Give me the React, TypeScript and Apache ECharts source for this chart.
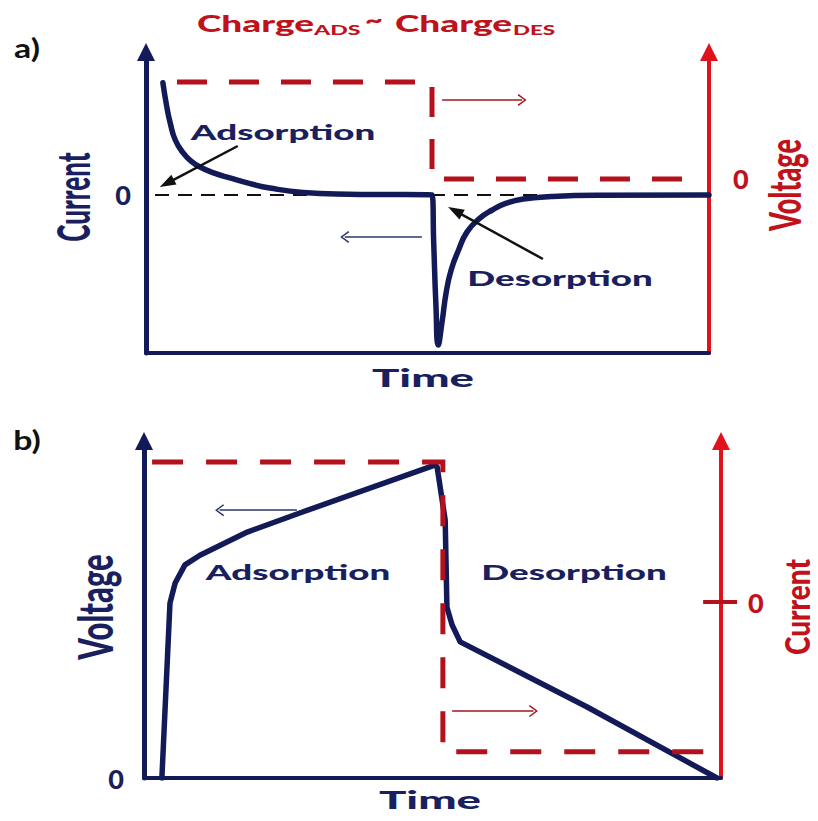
import React, { useEffect, useRef } from "react";
import * as echarts from "echarts";

// ---------- Panel a) current transient (left axis) & voltage step (right axis) ----------
// [time, current]
const currentA: [number, number][] = [
  [3.0, 0.71], [3.7, 0.557], [4.3, 0.456], [5.2, 0.348], [6.6, 0.266], [8.0, 0.215],
  [9.6, 0.177], [12.0, 0.14], [14.9, 0.108], [18.5, 0.072], [22.0, 0.044], [27.9, 0.016],
  [36.0, 0.005], [50.8, 0.0], [51.1, -0.3], [51.5, -0.7], [51.9, -0.95], [52.6, -0.8],
  [53.3, -0.62], [54.2, -0.475], [55.5, -0.35], [57.0, -0.235], [59.2, -0.15], [61.5, -0.095],
  [64.0, -0.052], [67.0, -0.025], [72.0, -0.01], [80.0, -0.002], [100, 0],
];
// [time, voltage]
const voltageA: [number, number][] = [[5.5, 1], [50.8, 1], [50.8, 0], [96.6, 0]];
const zeroLineA: [number, number][] = [[1.6, 0], [100, 0]];

// ---------- Panel b) voltage (left axis) & current step (right axis) ----------
const voltageB: [number, number][] = [
  [3.1, 0], [4.5, 0.559], [5.4, 0.623], [7.1, 0.681], [9.7, 0.712], [17.9, 0.786],
  [27.0, 0.847], [50.4, 1.0], [50.8, 0.994], [52.2, 0.824], [52.5, 0.546], [53.4, 0.489],
  [54.8, 0.435], [76.8, 0.227], [99.3, 0],
];
const currentB: [number, number][] = [[1.4, 1.0], [51.8, 1.0], [51.8, -1.07], [99.5, -1.07]];

// annotation arrows, [from, to] in data units
const adsorptionArrowA: [number, number][] = [[16.3, 0.31], [3.7, 0.074]];
const desorptionArrowA: [number, number][] = [[70.5, -0.405], [54.9, -0.1]];
const currentDirArrowA: [number, number][] = [[49.0, -0.266], [35.3, -0.266]];
const voltageDirArrowA: [number, number][] = [[52.6, 0.814], [66.8, 0.814]];
const voltageDirArrowB: [number, number][] = [[26.5, 0.856], [13.1, 0.856]];
const currentDirArrowB: [number, number][] = [[53.4, -0.779], [67.5, -0.779]];
const zeroTickB: [number, number][] = [[96.9, 0], [100, 0]];

const zeroTick = [0];

const NAVY = "#131a58";
const NAVY_TEXT = "#1a1f5e";
const RED = "#e0121b";
const RED_DASH = "#b3111b";
const RED_TEXT = "#c0121b";
const FONT = "Lato";
const CHEVRON = "path://M5,0 L10,9 L9,10 L5,2.6 L1,10 L0,9 Z";

function txt(
  text: string, x: number, y: number, size: number, color: string,
  o: { sx?: number; sy?: number; rot?: number; align?: string; weight?: number } = {}
) {
  const align = o.align || "center";
  return {
    type: "text", x, y, rotation: o.rot || 0, scaleX: o.sx || 1, scaleY: o.sy || 1, silent: true,
    style: {
      text, fill: color, fontSize: size, fontWeight: o.weight || 900, fontFamily: FONT,
      textAlign: align, textVerticalAlign: "middle", align, verticalAlign: "middle",
    },
  };
}

function arrow(pts: [number, number][], color: string, width: number, head: any, size: any) {
  return [
    { coord: pts[0], symbol: "none", lineStyle: { color, width, type: "solid" } },
    { coord: pts[1], symbol: head, symbolSize: size },
  ];
}

function mk(data: any[]) {
  return {
    silent: true, animation: false, symbol: ["none", "none"], label: { show: false },
    emphasis: { disabled: true }, data,
  };
}

function yAxisBase(grid: number, pos: string, min: number, max: number, color: string,
  labelColor: string, margin: number, width: number) {
  return {
    type: "value", gridIndex: grid, position: pos, min, max,
    axisLine: {
      show: true, onZero: false, symbol: ["none", "triangle"], symbolSize: [18, 18],
      lineStyle: { color, width },
    },
    axisTick: { show: false },
    splitLine: { show: false },
    axisLabel: {
      customValues: zeroTick, margin, color: labelColor, fontFamily: FONT,
      fontWeight: 900, fontSize: 27,
    },
  };
}

function xAxisBase(grid: number) {
  return {
    type: "value", gridIndex: grid, min: 0, max: 100,
    axisLine: { show: true, onZero: false, lineStyle: { color: NAVY, width: 4 } },
    axisTick: { show: false }, axisLabel: { show: false }, splitLine: { show: false },
  };
}

export default function App() {
  const ref = useRef<HTMLDivElement>(null);
  useEffect(() => {
    const chart = echarts.init(ref.current!, null, { renderer: "svg" });
    const rightB: any = yAxisBase(1, "right", -1.257, 1.15, RED, RED_TEXT, 27, 4);
    rightB.axisTick = { show: true, customValues: zeroTick, length: 16, inside: false, lineStyle: { color: RED_DASH, width: 4 } };
    const option: any = {
      animation: false,
      backgroundColor: "#ffffff",
      grid: [
        { left: 146, top: 52, width: 563, height: 301 },
        { left: 144, top: 441, width: 577, height: 337 },
      ],
      xAxis: [xAxisBase(0), xAxisBase(1)],
      yAxis: [
        yAxisBase(0, "left", -1, 0.905, NAVY, NAVY_TEXT, 15, 5),
        yAxisBase(0, "right", -1.794, 1.309, RED, RED_TEXT, 24, 4),
        yAxisBase(1, "left", 0, 1.077, NAVY, NAVY_TEXT, 20, 5),
        rightB,
      ],
      series: [
        {
          name: "zero", type: "line", xAxisIndex: 0, yAxisIndex: 0, data: zeroLineA,
          showSymbol: false, symbol: "none", silent: true, z: 1,
          lineStyle: { color: "#111111", width: 2, type: [14, 9] },
          markLine: mk([
            arrow(adsorptionArrowA, "#111111", 2.5, "triangle", [11, 16]),
            arrow(desorptionArrowA, "#111111", 2.5, "triangle", [11, 16]),
            arrow(currentDirArrowA, "#2c3468", 1.5, CHEVRON, [12, 9]),
          ]),
        },
        {
          name: "Current a", type: "line", xAxisIndex: 0, yAxisIndex: 0, data: currentA,
          showSymbol: false, symbol: "none", silent: true, z: 3, smooth: 0.5,
          lineStyle: { color: NAVY, width: 5.5, cap: "round", join: "round" },
        },
        {
          name: "Voltage a", type: "line", xAxisIndex: 0, yAxisIndex: 1, data: voltageA,
          showSymbol: false, symbol: "none", silent: true, z: 2,
          lineStyle: { color: RED_DASH, width: 5, type: [30, 22], cap: "butt", join: "miter" },
          markLine: mk([arrow(voltageDirArrowA, "#a3141c", 1.5, CHEVRON, [12, 9])]),
        },
        {
          name: "Voltage b", type: "line", xAxisIndex: 1, yAxisIndex: 2, data: voltageB,
          showSymbol: false, symbol: "none", silent: true, z: 3,
          lineStyle: { color: NAVY, width: 5.5, cap: "round", join: "round" },
          markLine: mk([arrow(voltageDirArrowB, "#2c3468", 1.5, CHEVRON, [12, 9])]),
        },
        {
          name: "Current b", type: "line", xAxisIndex: 1, yAxisIndex: 3, data: currentB,
          showSymbol: false, symbol: "none", silent: true, z: 4,
          lineStyle: { color: RED_DASH, width: 5, type: [31, 23], cap: "butt", join: "miter" },
          markLine: mk([
            arrow(currentDirArrowB, "#a3141c", 1.5, CHEVRON, [12, 9]),
            [
              { coord: zeroTickB[0], symbol: "none", lineStyle: { color: RED_DASH, width: 4, type: "solid" } },
              { coord: zeroTickB[1], symbol: "none" },
            ],
          ]),
        },
      ],
      graphic: {
        elements: [
          txt("a)", 27, 48, 26, "#111111", { sx: 1.3, weight: 700 }),
          txt("b)", 27, 440, 26, "#111111", { sx: 1.3, weight: 700 }),
          txt("Charge", 197, 23, 22, RED_TEXT, { sx: 1.68, align: "left" }),
          txt("ADS", 314, 30, 14, RED_TEXT, { sx: 1.65, align: "left" }),
          txt("~", 374, 20, 22, RED_TEXT, { sx: 1.4 }),
          txt("Charge", 395, 23, 22, RED_TEXT, { sx: 1.68, align: "left" }),
          txt("DES", 513, 30, 14, RED_TEXT, { sx: 1.6, align: "left" }),
          txt("Current", 72, 197, 26, NAVY_TEXT, { rot: Math.PI / 2, sy: 1.75 }),
          txt("Voltage", 784, 185, 27, RED_TEXT, { rot: Math.PI / 2, sy: 1.6 }),
          txt("Time", 423, 378, 24, NAVY_TEXT, { sx: 1.9 }),
          txt("Adsorption", 283, 132, 21, NAVY_TEXT, { sx: 1.75 }),
          txt("Desorption", 560, 278, 21, NAVY_TEXT, { sx: 1.75 }),
          txt("Voltage", 95, 607, 31, NAVY_TEXT, { rot: Math.PI / 2, sy: 1.55 }),
          txt("Current", 797, 607, 28, RED_TEXT, { rot: Math.PI / 2, sy: 1.2 }),
          txt("Time", 430, 800, 24, NAVY_TEXT, { sx: 1.9 }),
          txt("Adsorption", 298, 572, 21, NAVY_TEXT, { sx: 1.75 }),
          txt("Desorption", 574, 572, 21, NAVY_TEXT, { sx: 1.75 }),
        ],
      },
    };
    chart.setOption(option);
    return () => chart.dispose();
  }, []);
  return <div ref={ref} style={{ position: "absolute", left: 0, top: 0, width: 818, height: 821 }} />;
}
